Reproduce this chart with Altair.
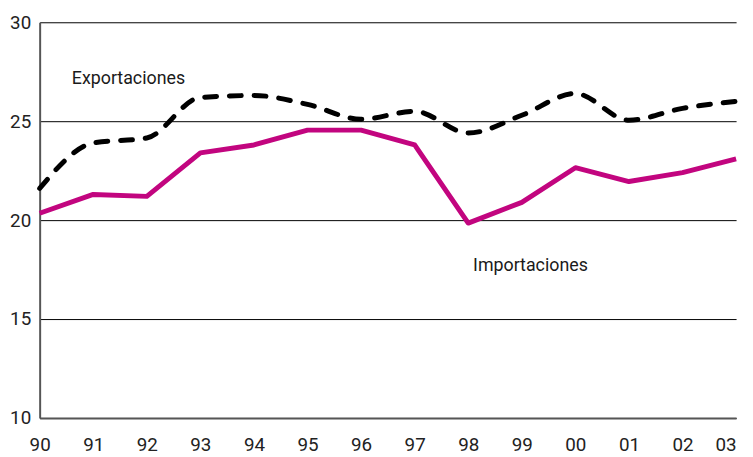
import altair as alt
import pandas as pd

years = list(range(1990, 2004))
exportaciones = [21.6, 23.9, 24.15, 26.2, 26.3, 25.85, 25.1, 25.5, 24.4, 25.3, 26.4, 25.05, 25.65, 26.0]
importaciones = [20.35, 21.3, 21.2, 23.4, 23.8, 24.55, 24.55, 23.8, 19.85, 20.9, 22.65, 21.95, 22.4, 23.1]
tick_values = years
y_ticks = [10, 15, 20, 25, 30]

label_text = ["Exportaciones", "Importaciones"]
label_x = [1990.6, 1998.09]
label_y = [26.9, 17.42]

df = pd.DataFrame({"year": years, "exp": exportaciones, "imp": importaciones})
lab = pd.DataFrame({"t": label_text, "x": label_x, "y": label_y})

FONT = "Roboto"

x_enc = alt.X("year:Q", scale=alt.Scale(domain=[1990, 2003], nice=False, zero=False),
              axis=alt.Axis(values=tick_values, labelExpr="substring(toString(datum.value), 2)",
                            title=None, grid=False, ticks=False, domain=True,
                            domainColor="#555555", domainWidth=2, labelFontSize=19,
                            labelFont=FONT, labelColor="#222222", labelPadding=18,
                            labelAlign=alt.ExprRef(expr="datum.value == 2003 ? 'right' : 'center'"),
                            labelFlush=False, labelOverlap=False, zindex=1))
y_scale = alt.Scale(domain=[10, 30], nice=False, zero=False)
y_axis = alt.Axis(values=y_ticks, title=None, grid=True, gridColor="#000000", gridWidth=1,
                  ticks=False, domain=True, domainColor="#555555", domainWidth=2,
                  labelFontSize=19, labelFont=FONT, labelColor="#222222", labelPadding=9,
                  labelFlush=False, zindex=0)

imp_line = alt.Chart(df).mark_line(color="#C2057F", strokeWidth=5, strokeJoin="round").encode(
    x=x_enc, y=alt.Y("imp:Q", scale=y_scale, axis=y_axis))

exp_line = alt.Chart(df).mark_line(color="#000000", strokeWidth=5, strokeDash=[12, 13],
                                   strokeCap="round", interpolate="monotone").encode(
    x=alt.X("year:Q"), y=alt.Y("exp:Q"))

labels = alt.Chart(lab).mark_text(align="left", baseline="alphabetic", font=FONT,
                                  fontSize=18, color="#1a1a1a").encode(
    x="x:Q", y="y:Q", text="t:N")

chart = alt.layer(imp_line, exp_line, labels).properties(
    width=704, height=400,
    autosize=alt.AutoSizeParams(type="none"),
    padding={"left": 32, "top": 12, "right": 9, "bottom": 37},
).configure_view(stroke=None)

chart.save("out.html", embed_options={"renderer": "svg", "actions": False})
